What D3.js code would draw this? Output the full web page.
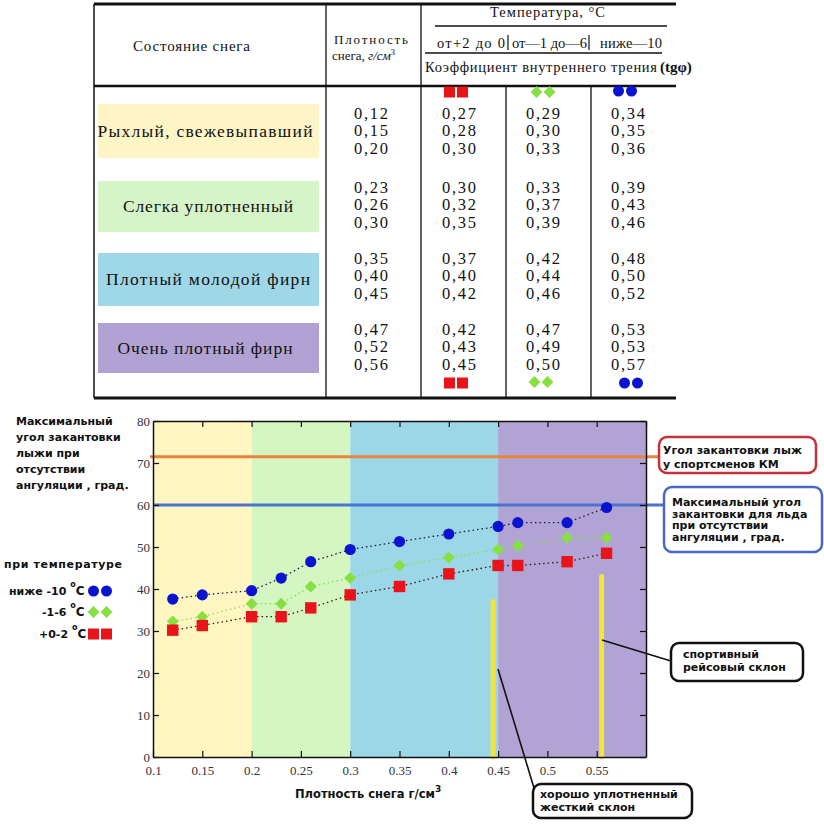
<!DOCTYPE html>
<html><head><meta charset="utf-8">
<script src="https://cdn.jsdelivr.net/npm/d3@7"></script>
<style>
html,body{margin:0;padding:0;background:#fff;}
svg{display:block;}
</style></head>
<body>
<svg id="c" width="824" height="833"></svg>
<script>
// ---------- DATA ----------
const snowStates = ["Рыхлый, свежевыпавший", "Слегка уплотненный", "Плотный молодой фирн", "Очень плотный фирн"];
const density   = [0.12, 0.15, 0.20, 0.23, 0.26, 0.30, 0.35, 0.40, 0.45, 0.47, 0.52, 0.56];
const tgWarm    = [0.27, 0.28, 0.30, 0.30, 0.32, 0.35, 0.37, 0.40, 0.42, 0.42, 0.43, 0.45];
const tgMid     = [0.29, 0.30, 0.33, 0.33, 0.37, 0.39, 0.42, 0.44, 0.46, 0.47, 0.49, 0.50];
const tgCold    = [0.34, 0.35, 0.36, 0.39, 0.43, 0.46, 0.48, 0.50, 0.52, 0.53, 0.53, 0.57];
const angleCold = [37.6, 38.6, 39.6, 42.6, 46.5, 49.4, 51.3, 53.1, 54.9, 55.8, 55.8, 59.4];
const angleMid  = [32.3, 33.4, 36.5, 36.5, 40.6, 42.6, 45.6, 47.5, 49.4, 50.3, 52.2, 52.2];
const angleWarm = [30.2, 31.3, 33.4, 33.4, 35.5, 38.6, 40.6, 43.6, 45.6, 45.6, 46.5, 48.5];
const bandEdges = [0.1, 0.2, 0.3, 0.45, 0.6];
const xTicks = [0.1, 0.15, 0.2, 0.25, 0.3, 0.35, 0.4, 0.45, 0.5, 0.55];
const yTicks = [0, 10, 20, 30, 40, 50, 60, 70, 80];
const refKM = 71.5;      // угол закантовки у спортсменов КМ
const refIce = 60;       // максимальный угол для льда
const slopeX = [0.445, 0.555];
const slopeTop = [37, 43];
const tempHeaders = ["от+2 до 0", "от—1 до—6", "ниже—10"];
const legendLabels = ["ниже -10", "-1-6", "+0-2"];

// ---------- STYLE ----------
const bandColors = ["#fff6c2", "#d4f6c0", "#9cd7e8", "#b1a4d5"];
const boxColors  = ["#fdf5c6", "#d5f4c8", "#9fd7e7", "#b0a3d4"];
const cBlue = "#0a14d0", cGreen = "#86e040", cRed = "#e8141a";

const svg = d3.select("#c");
const serif = "'Liberation Serif', 'Times New Roman', serif";
const sans = "'DejaVu Sans', Verdana, sans-serif";

// ================= TABLE =================
const T = svg.append("g");
function hline(x1, x2, y, w) { T.append("line").attr("x1", x1).attr("x2", x2).attr("y1", y).attr("y2", y).attr("stroke", "#111").attr("stroke-width", w); }
function vline(x, y1, y2, w) { T.append("line").attr("x1", x).attr("x2", x).attr("y1", y1).attr("y2", y2).attr("stroke", "#111").attr("stroke-width", w); }

// row colour boxes
const boxTop = [104, 181, 253, 323];
const boxH = [54, 51, 53, 50];
const labelCx = [205, 208, 208, 205];
const labelW = [215, 170, 204, 175];
snowStates.forEach((s, i) => {
  T.append("rect").attr("x", 98).attr("y", boxTop[i]).attr("width", 221).attr("height", boxH[i]).attr("fill", boxColors[i]);
  T.append("text").attr("x", labelCx[i]).attr("y", boxTop[i] + boxH[i] / 2 + 5.5)
    .attr("text-anchor", "middle").attr("font-family", serif).attr("font-size", 17.5)
    .attr("textLength", labelW[i]).attr("lengthAdjust", "spacing").attr("fill", "#111").text(s);
});

hline(94, 676, 4, 3);
hline(94, 676, 86, 2.4);
hline(94, 676, 398, 2.8);
vline(94, 4, 398, 1.5);
vline(326, 4, 398, 1.3);
vline(421, 4, 398, 1.3);
vline(506, 86, 398, 1.3);
vline(591, 86, 398, 1.3);
hline(435, 667, 26, 1.3);
hline(425, 662, 53, 1.3);
vline(508, 35, 50, 1.2);
vline(589, 35, 50, 1.2);

// header texts
const hdr = (x, y, t, size, anchor, len) => {
  const e = T.append("text").attr("x", x).attr("y", y).attr("font-family", serif).attr("font-size", size)
    .attr("text-anchor", anchor || "start").attr("fill", "#111").text(t);
  if (len) e.attr("textLength", len).attr("lengthAdjust", "spacing");
  return e;
};
hdr(133, 51, "Состояние снега", 15, "start", 117);
hdr(334, 44, "Плотность", 13, "start", 74);
const dens = hdr(332, 60, "снега, ", 13, "start");
dens.append("tspan").attr("font-style", "italic").text("г/см");
dens.append("tspan").attr("font-size", 8.5).attr("dy", -5).text("3");
hdr(490, 17, "Температура, °C", 14.5, "start", 115);
hdr(437, 48, tempHeaders[0], 14.5, "start", 68);
hdr(512, 48, tempHeaders[1], 14.5, "start", 75);
hdr(600, 48, tempHeaders[2], 14.5, "start", 62);
hdr(425, 72, "Коэффициент внутреннего трения", 14.5, "start", 232);
T.append("text").attr("x", 660).attr("y", 72).attr("font-family", serif).attr("font-size", 15)
  .attr("font-weight", "bold").attr("fill", "#111").text("(tgφ)");

// series symbols in the table
function symbolPair(g, kind, cx, cy, s) {
  [-6.5, 6.5].forEach(dx => {
    if (kind === "sq") g.append("rect").attr("x", cx + dx - s / 2).attr("y", cy - s / 2).attr("width", s).attr("height", s).attr("fill", cRed);
    if (kind === "di") g.append("path").attr("d", d3.symbol(d3.symbolDiamond2, s * s * 0.9)()).attr("transform", `translate(${cx + dx},${cy})`).attr("fill", cGreen);
    if (kind === "ci") g.append("circle").attr("cx", cx + dx).attr("cy", cy).attr("r", s / 2).attr("fill", cBlue);
  });
}
symbolPair(T, "sq", 456, 92, 11);
symbolPair(T, "di", 543, 92, 10);
symbolPair(T, "ci", 625, 91, 11);
symbolPair(T, "sq", 456, 383, 11);
symbolPair(T, "di", 541, 382, 10);
symbolPair(T, "ci", 631, 383, 11);

// numbers
const fmtC = v => d3.format(".2f")(v).replace(".", ",");
const groupY = [113, 187, 258, 329];
const colX = [371, 459, 543, 628];
const cols = [density, tgWarm, tgMid, tgCold];
cols.forEach((arr, ci) => {
  arr.forEach((v, k) => {
    const gi = Math.floor(k / 3), j = k % 3;
    T.append("text").attr("x", colX[ci]).attr("y", groupY[gi] + j * 17.3 + 6)
      .attr("text-anchor", "middle").attr("font-family", serif).attr("font-size", 16.5)
      .attr("textLength", 34).attr("lengthAdjust", "spacing").attr("fill", "#111").text(fmtC(v));
  });
});

// ================= CHART =================
const x = d3.scaleLinear().domain([0.1, 0.6]).range([153, 646]);
const y = d3.scaleLinear().domain([0, 80]).range([757, 421]);
const C = svg.append("g");

// bands
for (let i = 0; i < bandColors.length; i++) {
  C.append("rect").attr("x", x(bandEdges[i])).attr("y", y(80))
    .attr("width", x(bandEdges[i + 1]) - x(bandEdges[i])).attr("height", y(0) - y(80)).attr("fill", bandColors[i]);
}

// yellow slope markers
slopeX.forEach((sx, i) => {
  C.append("line").attr("x1", x(sx)).attr("x2", x(sx)).attr("y1", y(slopeTop[i])).attr("y2", y(0))
    .attr("stroke", "#f4e636").attr("stroke-width", 5).attr("stroke-linecap", "round");
});

// reference lines
C.append("line").attr("x1", 150).attr("x2", 658).attr("y1", y(refKM)).attr("y2", y(refKM)).attr("stroke", "#e8843c").attr("stroke-width", 3);
C.append("line").attr("x1", 153).attr("x2", 663).attr("y1", y(refIce)).attr("y2", y(refIce)).attr("stroke", "#4a74d2").attr("stroke-width", 3);

// axes (mirror ticks inside)
const fmtX = v => String(+v.toFixed(2));
const axStyle = g => {
  g.selectAll("text").attr("font-family", serif).attr("font-size", 13).attr("fill", "#333");
  g.select(".domain").attr("stroke", "#111").attr("stroke-width", 1.5);
  g.selectAll(".tick line").attr("stroke", "#111").attr("stroke-width", 1.2);
};
C.append("g").attr("transform", `translate(0,${y(0)})`)
  .call(d3.axisBottom(x).tickValues(xTicks).tickFormat(fmtX).tickSize(-6).tickPadding(9).tickSizeOuter(0)).call(axStyle);
C.append("g").attr("transform", `translate(0,${y(80)})`)
  .call(d3.axisTop(x).tickValues(xTicks.slice(1).concat([0.6])).tickFormat("").tickSize(-6).tickSizeOuter(0)).call(axStyle);
C.append("g").attr("transform", `translate(${x(0.1)},0)`)
  .call(d3.axisLeft(y).tickValues(yTicks).tickFormat(d3.format("d")).tickSize(-6).tickPadding(3).tickSizeOuter(0)).call(axStyle);
C.append("g").attr("transform", `translate(${x(0.6)},0)`)
  .call(d3.axisRight(y).tickValues(yTicks).tickFormat("").tickSize(-6).tickSizeOuter(0)).call(axStyle);

// series
const series = [
  { vals: angleCold, kind: "ci", color: cBlue, line: "#1a1a40" },
  { vals: angleMid, kind: "di", color: cGreen, line: "#86e040" },
  { vals: angleWarm, kind: "sq", color: cRed, line: "#401010" }
];
series.forEach(s => {
  const pts = density.map((d, i) => [d, s.vals[i]]);
  C.append("path").attr("d", d3.line().x(p => x(p[0])).y(p => y(p[1]))(pts))
    .attr("fill", "none").attr("stroke", s.line).attr("stroke-width", 1.3).attr("stroke-dasharray", "1.5,3");
});
[series[1], series[2], series[0]].forEach(s => {
  density.forEach((d, i) => {
    const cx = x(d), cy = y(s.vals[i]);
    if (s.kind === "ci") C.append("circle").attr("cx", cx).attr("cy", cy).attr("r", 5.6).attr("fill", s.color);
    if (s.kind === "di") C.append("path").attr("d", d3.symbol(d3.symbolDiamond2, 90)()).attr("transform", `translate(${cx},${cy})`).attr("fill", s.color);
    if (s.kind === "sq") C.append("rect").attr("x", cx - 5.7).attr("y", cy - 5.7).attr("width", 11.4).attr("height", 11.4).attr("fill", s.color);
  });
});

// ---------- annotations ----------
const A = svg.append("g").attr("font-family", sans).attr("font-weight", "bold").attr("font-size", 11).attr("fill", "#111");
["Максимальный", "угол закантовки", "лыжи при", "отсутствии", "ангуляции , град."].forEach((t, i) => {
  A.append("text").attr("x", 16).attr("y", 425 + i * 16).text(t);
});
A.append("text").attr("x", 4).attr("y", 568).attr("textLength", 118).attr("lengthAdjust", "spacing").text("при  температуре");
const legY = [591, 612, 634];
const legX = [9, 42, 39];
const legKinds = ["ci", "di", "sq"];
legendLabels.forEach((t, i) => {
  const e = A.append("text").attr("x", legX[i]).attr("y", legY[i] + 4).text(t + " ");
  e.append("tspan").attr("font-size", 8).attr("dy", -8).text("o");
  e.append("tspan").attr("font-size", 12).attr("dy", 8).text("C");
  symbolPair(svg, legKinds[i], 100, legY[i], legKinds[i] === "di" ? 10 : 11);
});

// x axis title
const xt = A.append("text").attr("x", 295).attr("y", 798).attr("font-size", 11.5).text("Плотность снега г/см");
xt.append("tspan").attr("font-size", 9).attr("dy", -6).text("3");

// callout boxes
function callout(x0, y0, w, h, color, lines, tx, ty, lh) {
  svg.append("rect").attr("x", x0).attr("y", y0).attr("width", w).attr("height", h).attr("rx", 8)
    .attr("fill", "#fff").attr("stroke", color).attr("stroke-width", 2.5);
  lines.forEach((t, i) => A.append("text").attr("x", tx).attr("y", ty + i * lh).text(t));
}
// leader lines
svg.append("line").attr("x1", 602).attr("y1", 640).attr("x2", 671).attr("y2", 661).attr("stroke", "#111").attr("stroke-width", 1.6);
svg.append("line").attr("x1", 498).attr("y1", 669).attr("x2", 534).attr("y2", 788).attr("stroke", "#111").attr("stroke-width", 1.6);
callout(659, 437, 157, 36, "#c8303c", ["Угол закантовки лыж", "у спортсменов  КМ"], 663, 454, 14);
callout(664, 487, 158, 65, "#4a68c4", ["Максимальный угол", "закантовки для льда", "при отсутствии", "ангуляции , град."], 672, 506, 11.6);
callout(671, 643, 132, 38, "#111", ["спортивный", "рейсовый склон"], 683, 658, 12.5);
callout(533, 784, 159, 34, "#111", ["хорошо уплотненный", "жесткий склон"], 540, 798, 13);
A.raise();
</script>
</body></html>
